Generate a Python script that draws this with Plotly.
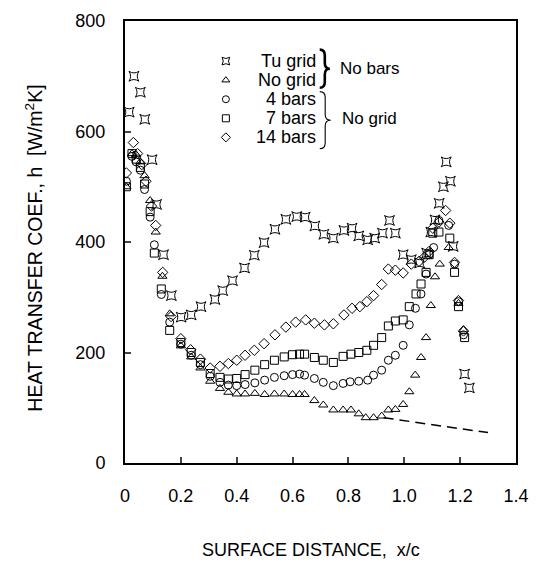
import plotly.graph_objects as go

FONT = "Liberation Sans, Arial, sans-serif"

# ---- data ----
tu_x = [0.015, 0.032, 0.055, 0.071, 0.097, 0.113, 0.138, 0.166, 0.201, 0.237, 0.272, 0.322, 0.350,
        0.385, 0.428, 0.463, 0.498, 0.537, 0.576, 0.615, 0.645, 0.680, 0.712, 0.746, 0.784, 0.813,
        0.837, 0.869, 0.894, 0.922, 0.947, 0.968, 0.996, 1.025, 1.055, 1.080, 1.095, 1.110, 1.125,
        1.140, 1.150, 1.165, 1.175, 1.216, 1.233]
tu_h = [635, 700, 671, 622, 549, 468, 377, 303, 264, 268, 283, 296, 312,
        330, 353, 376, 399, 423, 441, 446, 445, 429, 414, 407, 421, 425,
        411, 404, 407, 416, 439, 416, 377, 368, 362, 380, 418, 440, 470,
        500, 545, 510, 392, 161, 136]

tri_x = [0.005, 0.025, 0.040, 0.055, 0.070, 0.090, 0.110, 0.134, 0.160, 0.200, 0.237, 0.270, 0.305,
         0.340, 0.370, 0.400, 0.430, 0.465, 0.500, 0.535, 0.570, 0.600, 0.625, 0.643, 0.678, 0.710,
         0.746, 0.781, 0.809, 0.837, 0.862, 0.890, 0.919, 0.943, 0.968, 0.996, 1.018, 1.039, 1.060,
         1.078, 1.095, 1.110, 1.127, 1.159, 1.194, 1.212]
tri_h = [500, 560, 558, 545, 520, 475, 418, 338, 270, 212, 192, 172, 148,
         135, 128, 125, 125, 126, 124, 125, 125, 124, 124, 124, 113, 105,
         96, 96, 96, 89, 82, 82, 85, 96, 97, 106, 129, 159, 191,
         227, 285, 337, 360, 390, 289, 241]

c4_x = [0.005, 0.025, 0.040, 0.055, 0.070, 0.090, 0.105, 0.130, 0.160, 0.200, 0.237, 0.270, 0.305,
        0.340, 0.370, 0.400, 0.430, 0.465, 0.500, 0.535, 0.570, 0.600, 0.625, 0.643, 0.678, 0.710,
        0.746, 0.781, 0.806, 0.837, 0.869, 0.890, 0.919, 0.943, 0.968, 0.996, 1.018, 1.040, 1.060,
        1.078, 1.089, 1.105, 1.124, 1.159, 1.180, 1.194, 1.212]
c4_h = [510, 555, 545, 530, 495, 445, 395, 305, 255, 215, 195, 178, 157,
        146, 141, 140, 142, 145, 150, 155, 158, 160, 161, 159, 153, 146,
        140, 144, 147, 148, 150, 159, 168, 186, 195, 213, 250, 280, 306,
        342, 377, 390, 439, 430, 360, 292, 232]

s7_x = [0.005, 0.025, 0.040, 0.055, 0.070, 0.090, 0.105, 0.130, 0.160, 0.200, 0.237, 0.270, 0.305,
        0.340, 0.370, 0.400, 0.430, 0.465, 0.500, 0.535, 0.570, 0.600, 0.625, 0.643, 0.678, 0.710,
        0.746, 0.781, 0.809, 0.837, 0.866, 0.890, 0.919, 0.943, 0.968, 0.996, 1.018, 1.042, 1.060,
        1.078, 1.089, 1.102, 1.124, 1.163, 1.180, 1.194, 1.216]
s7_h = [500, 560, 550, 535, 505, 455, 380, 315, 240, 218, 200, 182, 162,
        155, 152, 153, 160, 168, 178, 186, 192, 196, 197, 197, 191, 186,
        182, 193, 197, 200, 204, 213, 227, 248, 257, 259, 283, 306, 324,
        345, 377, 416, 418, 407, 345, 283, 227]

d14_x = [0.005, 0.030, 0.045, 0.060, 0.075, 0.095, 0.110, 0.135, 0.165, 0.200, 0.235, 0.270, 0.305,
         0.340, 0.370, 0.400, 0.430, 0.463, 0.498, 0.537, 0.576, 0.611, 0.647, 0.678, 0.714, 0.746,
         0.784, 0.813, 0.841, 0.866, 0.890, 0.919, 0.943, 0.968, 0.996, 1.025, 1.053, 1.071, 1.089,
         1.102, 1.124, 1.148, 1.163, 1.180, 1.194, 1.212]
d14_h = [525, 580, 560, 540, 510, 465, 430, 345, 265, 225, 205, 188, 172,
         175, 180, 186, 195, 204, 216, 232, 246, 255, 259, 253, 250, 252,
         268, 280, 283, 292, 303, 323, 351, 349, 344, 360, 365, 372, 383,
         425, 436, 457, 434, 363, 294, 239]

dash_x = [0.926, 1.30]
dash_h = [82, 55]

x_ticks = [0, 0.2, 0.4, 0.6, 0.8, 1.0, 1.2, 1.4]
x_ticktext = ["0", "0.2", "0.4", "0.6", "0.8", "1.0", "1.2", "1.4"]
y_ticks = [0, 200, 400, 600, 800]

legend_names = ["Tu grid", "No grid", "4 bars", "7 bars", "14 bars"]
legend_symbols = ["star-square-open", "triangle-up-open", "circle-open", "square-open", "diamond-open"]
legend_rows = [0, 1, 2, 3, 4]
group_labels = ["No bars", "No grid"]

series = [
    (tu_x, tu_h, legend_symbols[0], legend_names[0], 9),
    (tri_x, tri_h, legend_symbols[1], legend_names[1], 8),
    (c4_x, c4_h, legend_symbols[2], legend_names[2], 8),
    (s7_x, s7_h, legend_symbols[3], legend_names[3], 8),
    (d14_x, d14_h, legend_symbols[4], legend_names[4], 8),
]

fig = go.Figure()
for xs, hs, sym, name, sz in series:
    fig.add_trace(go.Scatter(
        x=xs, y=hs, mode="markers", name=name, showlegend=False,
        marker=dict(symbol=sym, size=sz, color="black", line=dict(width=1, color="black")),
    ))

fig.add_trace(go.Scatter(
    x=dash_x, y=dash_h, mode="lines", showlegend=False,
    line=dict(color="black", width=1.5, dash="10px,6px"),
))

# legend keys on an overlay axis (row index scale)
fig.add_trace(go.Scatter(
    x=[0.258] * 5, y=legend_rows, mode="markers", showlegend=False,
    xaxis="x2", yaxis="y2",
    marker=dict(symbol=legend_symbols, size=7, color="black", line=dict(width=1, color="black")),
))

for name, r in zip(legend_names, legend_rows):
    fig.add_annotation(x=0.494, y=r, xref="x2", yref="y2", text=name, showarrow=False,
                       xanchor="right", yanchor="middle", font=dict(family=FONT, size=18, color="black"))

fig.add_annotation(x=0.545, y=0.4, xref="x2", yref="y2", text=group_labels[0], showarrow=False,
                   xanchor="left", yanchor="middle", font=dict(family=FONT, size=17, color="black"))
fig.add_annotation(x=0.55, y=3.0, xref="x2", yref="y2", text=group_labels[1], showarrow=False,
                   xanchor="left", yanchor="middle", font=dict(family=FONT, size=17, color="black"))


def brace(x0, w, yt, yb, r):
    xm = x0 + w / 2
    ym = (yt + yb) / 2
    return (f"M {x0},{yt} Q {xm},{yt} {xm},{yt + r} L {xm},{ym - r} Q {xm},{ym} {x0 + w},{ym} "
            f"Q {xm},{ym} {xm},{ym + r} L {xm},{yb - r} Q {xm},{yb} {x0},{yb}")


fig.add_shape(type="path", xref="x2", yref="y2", path=brace(0.498, 0.026, -0.6, 1.4, 0.3),
              line=dict(color="black", width=2.6))
fig.add_shape(type="path", xref="x2", yref="y2", path=brace(0.498, 0.028, 1.6, 4.6, 0.3),
              line=dict(color="black", width=1.1))

# axis titles
fig.add_annotation(x=-0.233, y=0.487, xref="paper", yref="paper", textangle=-90,
                   xanchor="center", yanchor="middle",
                   text="HEAT TRANSFER COEF., h  [W/m<sup>2</sup>K]", showarrow=False,
                   font=dict(family=FONT, size=19.5, color="black"))
fig.add_annotation(x=0.475, y=-0.197, xref="paper", yref="paper",
                   xanchor="center", yanchor="middle",
                   text="SURFACE DISTANCE,  x/c", showarrow=False,
                   font=dict(family=FONT, size=18, color="black"))

fig.update_layout(
    width=540, height=571,
    margin=dict(l=125, r=20, t=11, b=108),
    paper_bgcolor="white", plot_bgcolor="white",
    font=dict(family=FONT, size=18, color="black"),
    xaxis=dict(range=[0, 1.4], tickvals=x_ticks, ticktext=x_ticktext, ticks="inside", ticklen=6,
               tickwidth=1.5, showline=True, linewidth=2, linecolor="black", mirror=True,
               showgrid=False, zeroline=False, ticklabelstandoff=15,
               tickfont=dict(family=FONT, size=18, color="black")),
    yaxis=dict(range=[0, 800], tickvals=y_ticks, ticks="inside", ticklen=6, tickwidth=1.5,
               showline=True, linewidth=2, linecolor="black", mirror=True,
               showgrid=False, zeroline=False, ticklabelstandoff=14,
               tickfont=dict(family=FONT, size=18, color="black")),
    xaxis2=dict(overlaying="x", range=[0, 1], visible=False),
    yaxis2=dict(overlaying="y", range=[21.08, -2.103], visible=False),
)

# remove the default page margin so the 540x571 figure sits exactly in the window
fig.write_html("out.html", config={"displayModeBar": False},
               post_script="document.body.style.margin='0';document.body.style.overflow='hidden';")
